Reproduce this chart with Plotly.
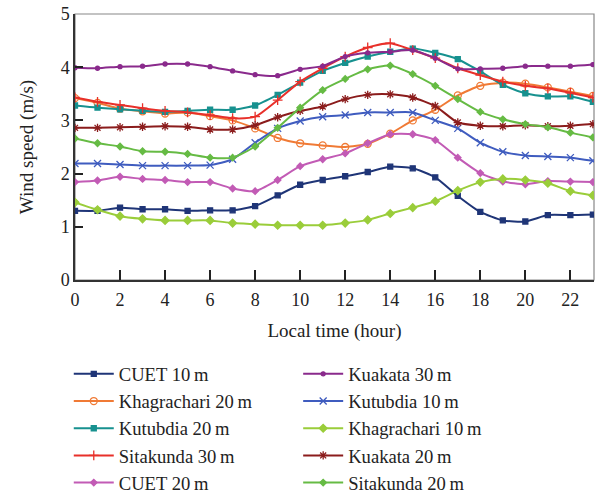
import plotly.graph_objects as go

hours = list(range(24))
x_ticks = [0, 2, 4, 6, 8, 10, 12, 14, 16, 18, 20, 22]

cuet_10 = [1.30, 1.30, 1.36, 1.33, 1.33, 1.30, 1.31, 1.31, 1.39, 1.59, 1.79, 1.88,
           1.95, 2.03, 2.13, 2.10, 1.93, 1.58, 1.28, 1.12, 1.10, 1.22, 1.22, 1.23]
khag_20 = [3.42, 3.33, 3.22, 3.17, 3.13, 3.15, 3.08, 3.00, 2.85, 2.67, 2.57, 2.53,
           2.50, 2.56, 2.75, 3.00, 3.20, 3.47, 3.65, 3.71, 3.69, 3.62, 3.54, 3.46]
kutub_20 = [3.28, 3.24, 3.21, 3.18, 3.16, 3.18, 3.20, 3.20, 3.28, 3.48, 3.71, 3.93,
            4.08, 4.20, 4.29, 4.35, 4.27, 4.15, 3.92, 3.67, 3.51, 3.45, 3.45, 3.35]
sita_30 = [3.43, 3.35, 3.29, 3.23, 3.18, 3.15, 3.10, 3.04, 3.07, 3.38, 3.73, 3.98,
           4.20, 4.37, 4.45, 4.32, 4.17, 3.98, 3.85, 3.73, 3.65, 3.60, 3.52, 3.43]
cuet_20 = [1.84, 1.87, 1.94, 1.90, 1.88, 1.84, 1.84, 1.72, 1.67, 1.88, 2.14, 2.27,
           2.38, 2.57, 2.74, 2.74, 2.63, 2.30, 2.01, 1.85, 1.80, 1.86, 1.85, 1.84]
kuak_30 = [3.99, 3.98, 4.01, 4.02, 4.06, 4.06, 4.01, 3.93, 3.86, 3.84, 3.96, 4.02,
           4.20, 4.27, 4.29, 4.32, 4.17, 3.97, 3.97, 3.98, 4.02, 4.02, 4.02, 4.05]
kutub_10 = [2.19, 2.19, 2.17, 2.15, 2.15, 2.15, 2.16, 2.27, 2.58, 2.85, 2.99, 3.07,
            3.10, 3.15, 3.15, 3.15, 3.00, 2.85, 2.58, 2.41, 2.34, 2.32, 2.30, 2.24]
khag_10 = [1.46, 1.32, 1.20, 1.15, 1.12, 1.12, 1.12, 1.07, 1.05, 1.03, 1.03, 1.03,
           1.07, 1.13, 1.25, 1.36, 1.48, 1.68, 1.84, 1.90, 1.88, 1.82, 1.67, 1.59]
kuak_20 = [2.86, 2.86, 2.87, 2.88, 2.89, 2.88, 2.83, 2.83, 2.91, 3.06, 3.18, 3.26,
           3.40, 3.48, 3.49, 3.43, 3.27, 2.96, 2.90, 2.89, 2.91, 2.89, 2.90, 2.93]
sita_20 = [2.66, 2.57, 2.51, 2.42, 2.41, 2.37, 2.30, 2.30, 2.51, 2.86, 3.24, 3.57,
           3.78, 3.96, 4.03, 3.87, 3.65, 3.40, 3.16, 3.02, 2.93, 2.87, 2.77, 2.68]

series = [
    ("CUET 10\u2009m", cuet_10, "#1f3577", "square", 5, "legend"),
    ("Khagrachari 20\u2009m", khag_20, "#f07a35", "circle-open", 7, "legend"),
    ("Kutubdia 20\u2009m", kutub_20, "#17918f", "square", 5, "legend"),
    ("Sitakunda 30\u2009m", sita_30, "#e8302a", "cross-thin-open", 7, "legend"),
    ("CUET 20\u2009m", cuet_20, "#c25bb5", "diamond", 5, "legend"),
    ("Kuakata 30\u2009m", kuak_30, "#8a2a8c", "circle", 4, "legend2"),
    ("Kutubdia 10\u2009m", kutub_10, "#3f5cbf", "x-thin-open", 7, "legend2"),
    ("Khagrachari 10\u2009m", khag_10, "#9acd3a", "diamond", 6, "legend2"),
    ("Kuakata 20\u2009m", kuak_20, "#8b1c1c", "asterisk-open", 7, "legend2"),
    ("Sitakunda 20\u2009m", sita_20, "#66bb44", "diamond", 5, "legend2"),
]

fig = go.Figure()
for name, vals, color, sym, size, leg in series:
    fig.add_trace(go.Scatter(
        x=hours, y=vals, name=name, mode="lines+markers",
        line=dict(color=color, width=2, shape="spline", smoothing=0.6),
        marker=dict(symbol=sym, size=size, color=color,
                    line=dict(color=color, width=1.3)),
        legend=leg,
    ))

font_family = "Liberation Serif"
legend_common = dict(
    font=dict(family=font_family, size=18.6, color="#222"),
    bgcolor="rgba(0,0,0,0)", yanchor="top", xanchor="left",
    tracegroupgap=0, itemwidth=40, orientation="v",
)
fig.update_layout(
    width=600, height=495,
    margin=dict(l=75, r=6, t=14, b=215, autoexpand=False),
    paper_bgcolor="white", plot_bgcolor="white",
    font=dict(family=font_family, size=18, color="#222"),
    xaxis=dict(range=[0, 23.05], tickvals=x_ticks, ticks="inside", ticklen=10,
               tickwidth=2, tickcolor="#222", showline=True, linecolor="#333",
               linewidth=1.5, showgrid=False, zeroline=False, ticklabelstandoff=3,
               title=dict(text="Local time (hour)", font=dict(size=19), standoff=14)),
    yaxis=dict(range=[0, 5], tickvals=[0, 1, 2, 3, 4, 5], ticks="inside", ticklen=8,
               tickwidth=2, tickcolor="#222", showline=True, linecolor="#333",
               linewidth=1.5, showgrid=False, zeroline=False,
               title=dict(text="Wind speed (m/s)", font=dict(size=19), standoff=22)),
    legend=dict(x=-0.012, y=-0.283, **legend_common),
    legend2=dict(x=0.43, y=-0.283, **legend_common),
    shapes=[dict(type="rect", xref="paper", yref="paper", x0=0, y0=0, x1=1, y1=1,
                 line=dict(color="#888", width=1.2), layer="below")],
)

fig.write_html("out.html", config={"displayModeBar": False},
               post_script="document.body.style.margin='0';")
